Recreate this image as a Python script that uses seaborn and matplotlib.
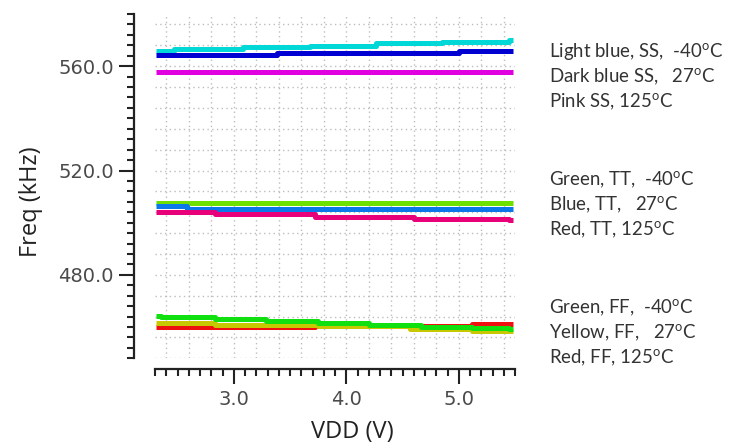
'''
Frequency vs VDD for SS / TT / FF corners at three temperatures
'''

import numpy as np
import seaborn           as sns
import matplotlib.pyplot as plt
from matplotlib.ticker import MultipleLocator, FormatStrFormatter

# ----------------------
# step start positions (V) and frequency (kHz) of each trace
ss_cold_x = [2.31, 2.47, 3.08, 3.68, 4.26, 4.85, 5.45, 5.48]
ss_cold_y = [565.7, 566.5, 567.2, 567.9, 568.8, 569.4, 570.0, 570.0]
ss_room_x = [2.31, 3.38, 5.00, 5.48]
ss_room_y = [564.2, 565.0, 565.7, 565.7]
ss_hot_x  = [2.31, 5.48]
ss_hot_y  = [557.8, 557.8]

tt_cold_x = [2.31, 5.48]
tt_cold_y = [507.4, 507.4]
tt_room_x = [2.31, 2.58, 5.48]
tt_room_y = [506.3, 505.4, 505.4]
tt_hot_x  = [2.31, 2.83, 3.72, 4.60, 5.45, 5.48]
tt_hot_y  = [504.2, 503.2, 502.2, 501.5, 500.9, 500.9]

ff_cold_x = [2.31, 2.35, 2.83, 3.29, 3.75, 4.20, 4.66, 5.12, 5.45, 5.48]
ff_cold_y = [464.3, 463.7, 462.9, 462.3, 461.5, 460.8, 460.1, 459.5, 459.1, 459.1]
ff_room_x = [2.31, 2.83, 3.75, 4.57, 5.12, 5.48]
ff_room_y = [461.6, 460.9, 460.2, 459.2, 458.6, 458.6]
ff_hot_x  = [2.31, 3.72, 5.12, 5.48]
ff_hot_y  = [460.0, 460.4, 461.0, 461.0]

notes = [
    ['Light blue, SS,  -40', 'Dark blue SS,   27', 'Pink SS, 125'],
    ['Green, TT,  -40', 'Blue, TT,   27', 'Red, TT, 125'],
    ['Green, FF,  -40', 'Yellow, FF,   27', 'Red, FF, 125'],
]
# ----------------------
def _plot_traces(ax) -> None:
    traces = [
        (ss_cold_x, ss_cold_y, '#00d8d8'),
        (ss_room_x, ss_room_y, '#0000d2'),
        (ss_hot_x , ss_hot_y , '#e000e0'),
        (tt_cold_x, tt_cold_y, '#6ee000'),
        (tt_room_x, tt_room_y, '#0a78e8'),
        (tt_hot_x , tt_hot_y , '#e8007a'),
        (ff_hot_x , ff_hot_y , '#ee1010'),
        (ff_room_x, ff_room_y, '#c8c800'),
        (ff_cold_x, ff_cold_y, '#10e010'),
    ]
    for x, y, col in traces:
        sns.lineplot(x=x, y=y, ax=ax, color=col, lw=3.6, drawstyle='steps-post',
                     solid_capstyle='butt', estimator=None, sort=False)
# ----------------------
def _style_axes(ax) -> None:
    ax.set_xlim(2.30, 5.50)
    ax.set_ylim(448, 580)

    for yv in np.arange(448, 581, 8):
        ax.axhline(yv, color='#bdbdbd', lw=1.0, ls=(0, (1, 2.4)), zorder=0)
    for xv in np.arange(2.4, 5.45, 0.2):
        ax.axvline(xv, color='#bdbdbd', lw=1.0, ls=(0, (1, 2.4)), zorder=0)

    ax.xaxis.set_major_locator(MultipleLocator(1.0))
    ax.xaxis.set_minor_locator(MultipleLocator(0.1))
    ax.yaxis.set_major_locator(MultipleLocator(40))
    ax.yaxis.set_minor_locator(MultipleLocator(4))
    ax.xaxis.set_major_formatter(FormatStrFormatter('%.1f'))
    ax.yaxis.set_major_formatter(FormatStrFormatter('%.1f'))

    ax.tick_params(which='major', length=10.5, width=1.5, color='#222222',
                   labelsize=14, labelcolor='#4a4a4a', pad=4)
    ax.tick_params(which='minor', length=5, width=1.5, color='#222222')
    for sp in ['left', 'bottom']:
        ax.spines[sp].set_linewidth(1.6)
        ax.spines[sp].set_color('#222222')

    sns.despine(ax=ax, offset={'left': 15, 'bottom': 8})

    ax.set_xlabel('VDD (V)', fontsize=17, color='#222222', family='Open Sans')
    ax.set_ylabel('Freq (kHz)', fontsize=17, color='#222222', family='Open Sans')
    ax.xaxis.set_label_coords(0.547, -0.18)
    ax.yaxis.set_label_coords(-0.31, 0.456)
# ----------------------
def _add_notes(fig) -> None:
    tops = [51.7, 180.0, 308.0]
    step = 24.8
    for grp, y0 in zip(notes, tops):
        for i, txt in enumerate(grp):
            ypx = y0 + i * step
            fig.text(549 / 733, 1 - ypx / 447, txt + r'$^{\mathrm{o}}$C',
                     fontsize=13.4, color='#333333', ha='left', va='center',
                     family='Lato')
# ----------------------
def main():
    sns.set_style('ticks')
    plt.rcParams['font.family'] = ['DejaVu Sans']
    plt.rcParams['mathtext.fontset'] = 'custom'
    plt.rcParams['mathtext.rm'] = 'Lato'

    fig = plt.figure(figsize=(7.33, 4.47), dpi=100)
    ax  = fig.add_axes([155 / 733, 1 - 358.3 / 447, 360 / 733, 344.3 / 447])

    _plot_traces(ax)
    _style_axes(ax)
    _add_notes(fig)

    fig.savefig('out.png', dpi=100)
    plt.close(fig)
# ----------------------
if __name__ == '__main__':
    main()
